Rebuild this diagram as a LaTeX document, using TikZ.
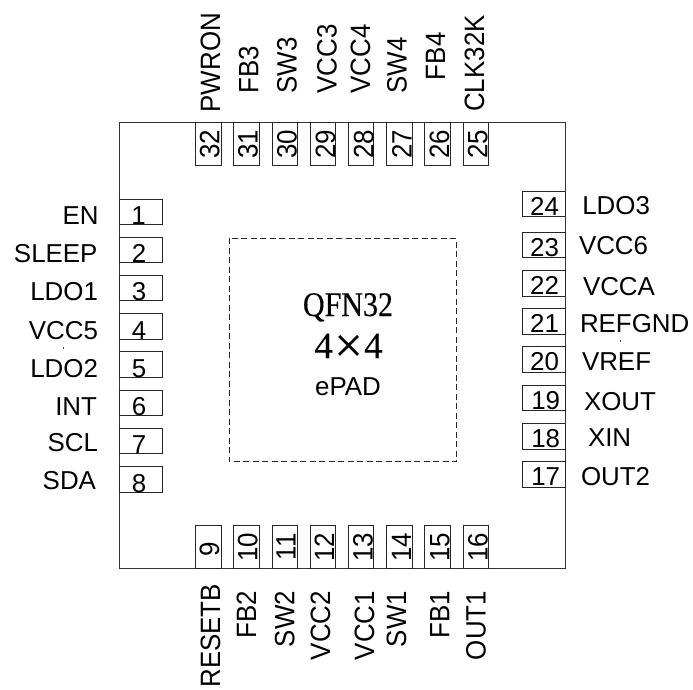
\documentclass[tikz,border=0pt]{standalone}
\usepackage{fontspec}
\setmainfont{Liberation Sans}
\newfontfamily\serifchip[FakeBold=0.25]{Liberation Serif}
\tikzset{
  x=1pt,y=-1pt,
  pinbox/.style={draw=black!85,line width=0.9pt,fill=white,inner sep=0pt,outer sep=0pt},
  txt/.style={inner sep=0pt,outer sep=0pt,font=\fontsize{25.9}{28}\selectfont,text=black},
  vtxt/.style={txt,rotate=90,yscale=1.08},
  chip/.style={inner sep=0pt,outer sep=0pt,anchor=base,text=black},
}
\begin{document}
\begin{tikzpicture}
\useasboundingbox (0,0) rectangle (693,689);
% package outline
\draw[line width=0.9pt,draw=black!80] (119.3,122.6) rectangle (565.7,568.7);
% exposed pad
\draw[line width=0.8pt,draw=black!85,dash pattern=on 6pt off 3.5pt] (229.3,238.3) rectangle (456.7,461.7);
\node[chip,xscale=0.87,font=\serifchip\fontsize{34.5}{36}\selectfont] (qfn) at (348,316) {QFN32};
\node[chip,font=\serifchip\fontsize{37}{40}\selectfont] (size) at (348.5,358) {4\kern1.5pt\raisebox{-4pt}{\fontsize{50}{50}\selectfont×}\kern1.5pt4};
\node[txt,anchor=base] (epad) at (348,395.7) {ePAD};
% left pins: number / top / baseline / digit x / label / label x / label baseline
\foreach \n/\t/\b/\dx/\lab/\lx/\ly in {
 1/199/224.3/138.5/EN/98.5/224.3,
 2/237.2/262.7/139/SLEEP/97.5/262.7,
 3/275.4/300.9/139/LDO1/98/300.7,
 4/313.6/339.1/139/VCC5/98/339,
 5/351.8/377.3/139/LDO2/98/377.7,
 6/390/415.5/139/INT/97/415,
 7/428.2/453.7/139/SCL/98/451,
 8/466.7/492/139/SDA/96/489}{
  \path[pinbox,draw] (119.3,\t) rectangle (162.7,\b);
  \node[txt,anchor=base] (num\n) at (\dx,\b) {\n};
  \node[txt,anchor=base east] (lab\n) at (\lx,\ly) {\lab};
}
% right pins
\foreach \n/\t/\b/\dx/\dy/\lab/\lx/\ly in {
 24/191.7/216.7/544.5/215/LDO3/582.3/214,
 23/232.3/257.7/544.5/256/VCC6/579/254.7,
 22/270.7/296/544.5/294/VCCA/583/295.7,
 21/308.7/334/544.5/332.7/REFGND/580/332.7,
 20/346.7/372.3/544.5/370.7/VREF/582/370.7,
 19/385.3/410.7/545.7/409/XOUT/584/410,
 18/423.3/449/545.7/447.7/XIN/588/446.7,
 17/461.3/487/545.7/485.7/OUT2/581/485}{
  \path[pinbox,draw] (522.7,\t) rectangle (565.7,\b);
  \node[txt,anchor=base] (num\n) at (\dx,\dy) {\n};
  \node[txt,anchor=base west] (lab\n) at (\lx,\ly) {\lab};
}
% top pins
\foreach \n/\l/\r/\dx/\lab/\lx/\ly in {
 32/195.7/221/219.3/PWRON/220/112.3,
 31/233.9/259.2/257.7/FB3/258.3/93.3,
 30/272.1/297.4/296.7/SW3/296.7/93.3,
 29/310.3/335.6/335/VCC3/336.7/93.3,
 28/348.5/373.8/373.3/VCC4/370/93.3,
 27/386.7/412/411.7/SW4/406.7/93.3,
 26/424.9/450.2/449/FB4/445/80,
 25/463/488.3/487.3/CLK32K/484/111.7}{
  \path[pinbox,draw] (\l,122.6) rectangle (\r,165.5);
  \node[vtxt,anchor=base] (num\n) at (\dx,144) {\n};
  \node[vtxt,anchor=base west] (lab\n) at (\lx,\ly) {\lab};
}
% bottom pins
\foreach \n/\l/\r/\dx/\dy/\lab/\lx/\ly in {
 9/195.7/221/219/549/RESETB/220/584,
 10/233.9/259.2/257.3/547/FB2/256/591,
 11/272.1/297.4/295.7/547/SW2/294.3/591,
 12/310.3/335.6/334/547/VCC2/330/591,
 13/348.5/373.8/372.7/547/VCC1/374/591,
 14/386.7/412/411/547/SW1/406/591,
 15/424.9/450.2/449.3/547/FB1/449.3/591,
 16/463/488.3/487.7/547/OUT1/485.7/591}{
  \path[pinbox,draw] (\l,525.3) rectangle (\r,568.7);
  \node[vtxt,anchor=base] (num\n) at (\dx,\dy) {\n};
  \node[vtxt,anchor=base east] (lab\n) at (\lx,\ly) {\lab};
}
% stray specks of the original
\fill[black!70] (62.9,346.5) rectangle (63.9,348.5);
\fill[black!70] (619.6,340.3) rectangle (620.6,342.3);
\end{tikzpicture}
\end{document}
